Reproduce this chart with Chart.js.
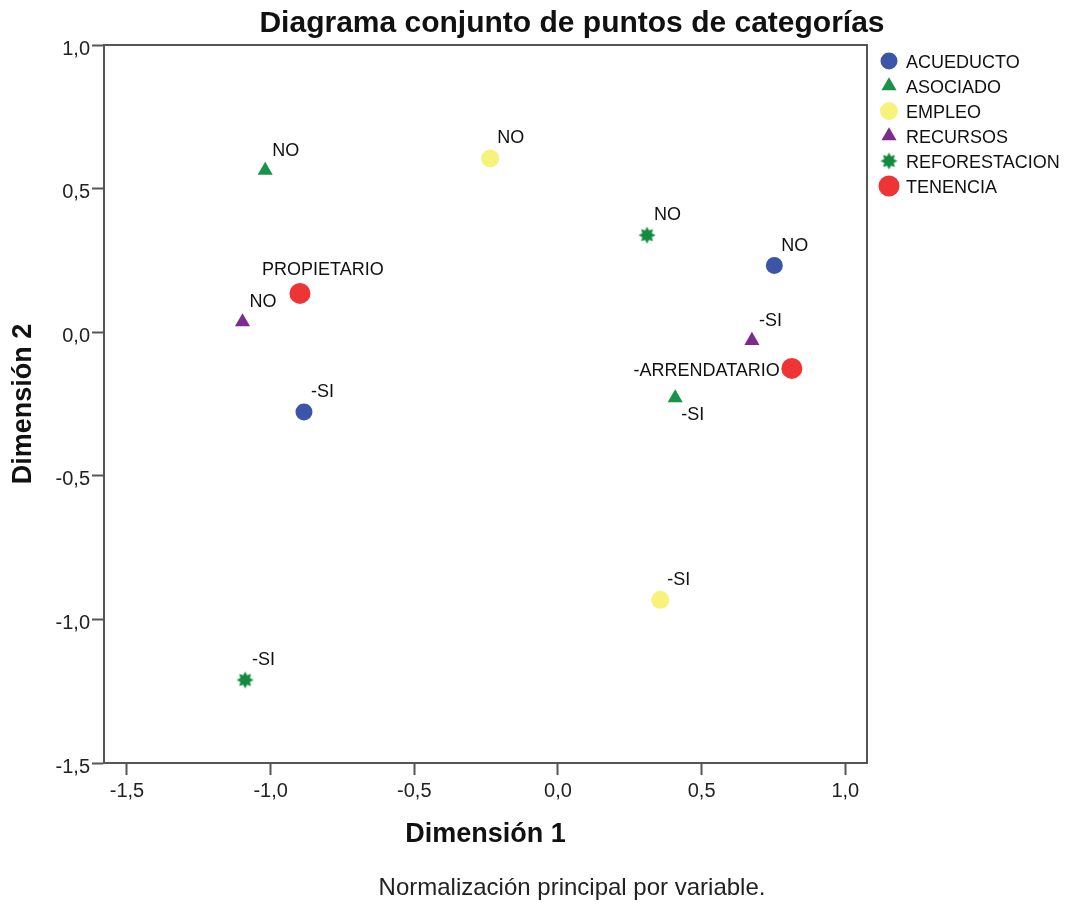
<!DOCTYPE html>
<html>
<head>
<meta charset="utf-8">
<script src="https://cdn.jsdelivr.net/npm/chart.js@4"></script>
<style>
  html, body { margin: 0; padding: 0; background: #fff; }
  canvas { display: block; }
</style>
</head>
<body>
<canvas id="jointPlot" width="1072" height="909"></canvas>
<script>
// Coordenadas de las categorias
const variables = ['ACUEDUCTO', 'ASOCIADO', 'EMPLEO', 'RECURSOS', 'REFORESTACION', 'TENENCIA'];

const acueductoCats = ['NO', '-SI'];
const acueductoDim1 = [0.753, -0.884];
const acueductoDim2 = [0.232, -0.278];

const asociadoCats = ['NO', '-SI'];
const asociadoDim1 = [-1.019, 0.408];
const asociadoDim2 = [0.563, -0.229];

const empleoCats = ['NO', '-SI'];
const empleoDim1 = [-0.236, 0.356];
const empleoDim2 = [0.605, -0.932];

const recursosCats = ['NO', '-SI'];
const recursosDim1 = [-1.098, 0.675];
const recursosDim2 = [0.036, -0.029];

const reforestacionCats = ['NO', '-SI'];
const reforestacionDim1 = [0.310, -1.089];
const reforestacionDim2 = [0.338, -1.211];

const tenenciaCats = ['PROPIETARIO', '-ARRENDATARIO'];
const tenenciaDim1 = [-0.898, 0.814];
const tenenciaDim2 = [0.135, -0.126];

const xTicks = [-1.5, -1.0, -0.5, 0.0, 0.5, 1.0];
const yTicks = [-1.5, -1.0, -0.5, 0.0, 0.5, 1.0];

const FONT = '"Liberation Sans", Arial, sans-serif';

// donde va la etiqueta de cada punto
const labelSpots = {
    ASOCIADO: ['ne', 'se'],
    TENENCIA: ['nw', 'w']
};
const spotOffsets = {
    ne: { dx: 7, dy: -15, align: 'left' },
    se: { dx: 6, dy: 22, align: 'left' },
    nw: { dx: -38, dy: -18, align: 'left' },
    w: { dx: -12, dy: 8, align: 'right' }
};

function makeStarburst(radius, color) {
    const size = Math.ceil(radius * 2) + 2;
    const c = document.createElement('canvas');
    c.width = size;
    c.height = size;
    const g = c.getContext('2d');
    g.fillStyle = color;
    g.beginPath();
    for (let i = 0; i < 16; i++) {
        const r = i % 2 === 0 ? radius : radius * 0.6;
        const a = i * Math.PI / 8 - Math.PI / 2;
        const px = size / 2 + Math.cos(a) * r;
        const py = size / 2 + Math.sin(a) * r;
        if (i === 0) g.moveTo(px, py); else g.lineTo(px, py);
    }
    g.closePath();
    g.fill();
    return c;
}

const styles = {
    ACUEDUCTO: { color: '#3B55A8', pointStyle: 'circle', radius: 8.5 },
    ASOCIADO: { color: '#17934A', pointStyle: 'triangle', radius: 8.7 },
    EMPLEO: { color: '#F7F27A', pointStyle: 'circle', radius: 9 },
    RECURSOS: { color: '#7D2B8E', pointStyle: 'triangle', radius: 8.7 },
    REFORESTACION: { color: '#128A40', pointStyle: makeStarburst(8.5, '#128A40'), radius: 8.5 },
    TENENCIA: { color: '#EE3536', pointStyle: 'circle', radius: 10.5 }
};

const seriesData = {
    ACUEDUCTO: [acueductoCats, acueductoDim1, acueductoDim2],
    ASOCIADO: [asociadoCats, asociadoDim1, asociadoDim2],
    EMPLEO: [empleoCats, empleoDim1, empleoDim2],
    RECURSOS: [recursosCats, recursosDim1, recursosDim2],
    REFORESTACION: [reforestacionCats, reforestacionDim1, reforestacionDim2],
    TENENCIA: [tenenciaCats, tenenciaDim1, tenenciaDim2]
};

function buildDatasets() {
    return variables.map(name => {
        const [cats, dim1, dim2] = seriesData[name];
        const st = styles[name];
        return {
            label: name,
            data: cats.map((c, i) => ({ x: dim1[i], y: dim2[i] })),
            pointNames: cats,
            spots: labelSpots[name] || cats.map(() => 'ne'),
            backgroundColor: st.color,
            borderColor: st.color,
            pointStyle: st.pointStyle,
            pointRadius: st.radius,
            pointBorderWidth: 0
        };
    });
}

function formatTick(v) {
    return v.toFixed(1).replace('.', ',');
}

const pointLabelPlugin = {
    id: 'pointLabels',
    afterDatasetsDraw(chart) {
        const ctx = chart.ctx;
        ctx.save();
        ctx.font = '18px ' + FONT;
        ctx.fillStyle = '#111';
        ctx.textBaseline = 'alphabetic';
        chart.data.datasets.forEach((ds, di) => {
            const meta = chart.getDatasetMeta(di);
            meta.data.forEach((pt, i) => {
                const spot = spotOffsets[ds.spots[i]];
                ctx.textAlign = spot.align;
                ctx.fillText(ds.pointNames[i], pt.x + spot.dx, pt.y + spot.dy);
            });
        });
        ctx.restore();
    }
};

const framePlugin = {
    id: 'frame',
    beforeDatasetsDraw(chart) {
        const { ctx, chartArea } = chart;
        ctx.save();
        ctx.strokeStyle = '#555';
        ctx.lineWidth = 2;
        ctx.strokeRect(chartArea.left, chartArea.top, chartArea.right - chartArea.left, chartArea.bottom - chartArea.top);
        ctx.restore();
    }
};

const textPlugin = {
    id: 'extraTexts',
    afterDraw(chart) {
        const ctx = chart.ctx;
        ctx.save();
        ctx.fillStyle = '#111';
        ctx.textAlign = 'center';
        ctx.textBaseline = 'alphabetic';
        ctx.font = 'bold 30px ' + FONT;
        ctx.fillText('Diagrama conjunto de puntos de categorías', 572, 32);
        ctx.font = '24px ' + FONT;
        ctx.fillStyle = '#222';
        ctx.fillText('Normalización principal por variable.', 572, 895);

        // leyenda
        ctx.textAlign = 'left';
        ctx.font = '18px ' + FONT;
        chart.data.datasets.forEach((ds, i) => {
            const rowY = 61 + i * 25;
            ctx.fillStyle = ds.backgroundColor;
            ctx.strokeStyle = ds.backgroundColor;
            Chart.helpers.drawPoint(ctx, {
                pointStyle: ds.pointStyle,
                radius: ds.pointRadius,
                rotation: 0,
                borderWidth: 0
            }, 889, rowY);
            ctx.fillStyle = '#111';
            ctx.fillText(ds.label, 906, rowY + 7);
        });
        ctx.restore();
    }
};

function renderChart() {
    const ctx = document.getElementById('jointPlot').getContext('2d');
    new Chart(ctx, {
        type: 'scatter',
        data: { datasets: buildDatasets() },
        plugins: [framePlugin, pointLabelPlugin, textPlugin],
        options: {
            responsive: false,
            animation: false,
            events: [],
            layout: { padding: { top: 45, right: 205, bottom: 0, left: 0 } },
            plugins: {
                legend: { display: false },
                tooltip: { enabled: false }
            },
            scales: {
                x: {
                    type: 'linear',
                    min: -1.58,
                    max: 1.0755,
                    afterBuildTicks: s => { s.ticks = xTicks.map(v => ({ value: v })); },
                    afterFit: s => { s.height = 146; },
                    grid: { drawOnChartArea: false, tickLength: 12, tickColor: '#555', tickWidth: 2 },
                    border: { color: '#555', width: 2 },
                    ticks: {
                        padding: 4,
                        color: '#222',
                        font: { family: FONT, size: 20 },
                        maxRotation: 0,
                        callback: v => formatTick(v)
                    },
                    title: {
                        display: true,
                        text: 'Dimensión 1',
                        color: '#111',
                        font: { family: FONT, size: 27, weight: 'bold' },
                        padding: { top: 0, bottom: 58 }
                    }
                },
                y: {
                    type: 'linear',
                    min: -1.5,
                    max: 1.0,
                    afterBuildTicks: s => { s.ticks = yTicks.map(v => ({ value: v })); },
                    afterFit: s => { s.width = 104; },
                    grid: { drawOnChartArea: false, tickLength: 12, tickColor: '#555', tickWidth: 2 },
                    border: { color: '#555', width: 2 },
                    ticks: {
                        padding: 2,
                        labelOffset: 4,
                        color: '#222',
                        font: { family: FONT, size: 20 },
                        callback: v => formatTick(v)
                    },
                    title: {
                        display: true,
                        text: 'Dimensión 2',
                        color: '#111',
                        font: { family: FONT, size: 27, weight: 'bold' },
                        padding: { top: 7, bottom: 0 }
                    }
                }
            }
        }
    });
}

renderChart();
</script>
</body>
</html>
